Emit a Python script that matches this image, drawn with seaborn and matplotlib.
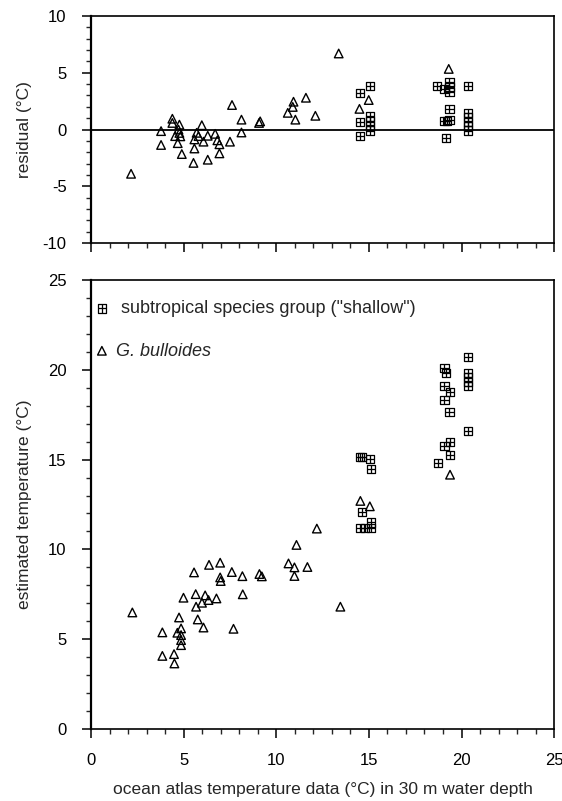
import numpy as np
import pandas as pd
import seaborn as sns
import matplotlib.pyplot as plt
from matplotlib.path import Path
from matplotlib.ticker import MultipleLocator

# residual (top panel), G. bulloides
res_tri_x = [2.16, 3.78, 3.78, 4.39, 4.39, 4.77, 4.72, 4.77, 4.54, 4.82, 4.68, 4.90,
             5.53, 5.58, 5.58, 5.70, 5.80, 5.98, 6.07, 6.30, 6.30, 6.70, 6.82, 6.93,
             6.93, 7.50, 7.61, 8.12, 8.12, 9.07, 9.13, 10.62, 10.89, 10.93, 11.03,
             11.60, 12.11, 13.37, 14.49, 14.99, 19.31]
res_tri_y = [-3.9, -0.14, -1.36, 0.95, 0.58, 0.43, 0.0, -0.3, -0.58, -0.6, -1.2, -2.16,
             -2.94, -1.67, -0.87, -0.29, -0.58, 0.38, -1.07, -0.55, -2.66, -0.38, -0.95,
             -1.3, -2.1, -1.07, 2.16, 0.87, -0.26, 0.58, 0.72, 1.47, 1.99, 2.45, 0.87,
             2.8, 1.21, 6.7, 1.82, 2.6, 5.34]
# residual (top panel), subtropical species group
res_sq_x = [14.54, 14.54, 14.54, 15.05, 15.05, 15.05, 15.05, 15.05,
            18.68, 19.08, 19.15, 19.08, 19.20, 19.35, 19.35, 19.35, 19.35, 19.35,
            20.34, 20.34, 20.34, 20.34, 20.34, 20.34]
res_sq_y = [3.23, 0.66, -0.58, 3.84, 1.15, 0.72, 0.29, -0.09,
            3.84, 3.6, -0.72, 0.72, 0.78, 4.18, 3.75, 3.32, 1.79, 0.87,
            3.84, 1.44, 1.07, 0.66, 0.29, -0.09]

# estimated temperature (bottom panel), G. bulloides
est_tri_x = [2.23, 3.85, 3.85, 4.48, 4.50, 4.75, 4.66, 4.86, 4.86, 4.86, 4.86, 4.99,
             5.56, 5.65, 5.67, 5.76, 6.07, 5.99, 6.16, 6.34, 6.37, 6.77, 6.97, 6.97,
             7.00, 7.60, 7.69, 8.17, 8.19, 9.09, 9.22, 10.66, 10.98, 10.98, 11.09,
             11.68, 12.19, 13.46, 14.54, 15.05, 19.38]
est_tri_y = [6.49, 5.38, 4.07, 4.17, 3.65, 6.21, 5.36, 5.60, 5.23, 4.95, 4.67, 7.31,
             8.72, 7.51, 6.81, 6.10, 5.65, 7.03, 7.44, 7.18, 9.14, 7.27, 9.26, 8.44,
             8.24, 8.74, 5.58, 8.51, 7.50, 8.63, 8.50, 9.22, 9.00, 8.52, 10.25,
             9.02, 11.16, 6.81, 12.70, 12.40, 14.16]
# estimated temperature (bottom panel), subtropical species group
est_sq_x = [14.62, 14.54, 14.80, 15.12, 15.12, 14.54, 14.62, 15.07, 15.10,
            18.75, 19.08, 19.39, 19.39, 19.35, 19.08, 19.08, 19.39, 19.08, 19.17,
            20.34, 20.34, 20.34, 20.34, 20.34, 20.34]
est_sq_y = [12.07, 11.18, 11.18, 11.18, 11.50, 15.16, 15.16, 15.03, 14.47,
            14.81, 15.74, 15.96, 15.27, 17.63, 18.34, 19.08, 18.75, 20.10, 19.83,
            16.61, 20.70, 19.83, 19.59, 19.33, 19.08]

label_sq = ' subtropical species group ("shallow")'
label_tri = "G. bulloides"

sns.set_style("ticks")
plt.rcParams["font.family"] = ["Liberation Sans", "DejaVu Sans"]
plt.rcParams["axes.unicode_minus"] = False

# square with a cross inside
sq_path = Path(
    [(-1, -1), (1, -1), (1, 1), (-1, 1), (-1, -1), (-1, 0), (1, 0), (0, -1), (0, 1)],
    [Path.MOVETO, Path.LINETO, Path.LINETO, Path.LINETO, Path.CLOSEPOLY,
     Path.MOVETO, Path.LINETO, Path.MOVETO, Path.LINETO],
)

fig = plt.figure(figsize=(5.62, 8.01), dpi=100)
ax1 = fig.add_axes([0.162, 0.6966, 0.824, 0.2834])
ax2 = fig.add_axes([0.162, 0.0899, 0.824, 0.5605])

res_sq = pd.DataFrame({"x": res_sq_x, "y": res_sq_y})
res_tri = pd.DataFrame({"x": res_tri_x, "y": res_tri_y})
est_sq = pd.DataFrame({"x": est_sq_x, "y": est_sq_y})
est_tri = pd.DataFrame({"x": est_tri_x, "y": est_tri_y})

style_sq = dict(marker=sq_path, s=34, facecolor="none", edgecolor="black", linewidth=0.9)
style_tri = dict(marker="^", s=38, facecolor="none", edgecolor="black", linewidth=1.0)

ax1.axhline(0, color="black", lw=1.3, zorder=1)
sns.scatterplot(data=res_sq, x="x", y="y", ax=ax1, **style_sq)
sns.scatterplot(data=res_tri, x="x", y="y", ax=ax1, **style_tri)

sns.scatterplot(data=est_sq, x="x", y="y", ax=ax2, label=label_sq, **style_sq)
sns.scatterplot(data=est_tri, x="x", y="y", ax=ax2, label=label_tri, **style_tri)

ax1.set_xlim(0, 25)
ax1.set_ylim(-10, 10)
ax2.set_xlim(0, 25)
ax2.set_ylim(0, 25)

for ax in (ax1, ax2):
    ax.xaxis.set_major_locator(MultipleLocator(5))
    ax.xaxis.set_minor_locator(MultipleLocator(1))
    ax.yaxis.set_major_locator(MultipleLocator(5))
    ax.yaxis.set_minor_locator(MultipleLocator(1))
    ax.tick_params(which="major", direction="out", length=6.5, width=1.1,
                   labelsize=12, colors="black", top=False, right=False)
    ax.tick_params(which="minor", direction="out", length=3.5, width=1.0,
                   top=False, right=False)
    ax.tick_params(axis="y", which="major", pad=11)
    ax.tick_params(axis="x", which="major", pad=11)
    for sp in ax.spines.values():
        sp.set_visible(True)
        sp.set_linewidth(1.2)
        sp.set_color("black")
    ax.spines["left"].set_linewidth(1.6)

ax1.tick_params(labelbottom=False)
ax1.set_xlabel("")
ax1.set_ylabel("residual (°C)", fontsize=12.5)
ax1.yaxis.set_label_coords(-0.127, 0.5)

ax2.set_ylabel("estimated temperature (°C)", fontsize=12.5)
ax2.yaxis.set_label_coords(-0.127, 0.5)
ax2.set_xlabel("ocean atlas temperature data (°C) in 30 m water depth", fontsize=12.5)
ax2.xaxis.set_label_coords(0.5, -0.117)

leg = ax2.legend(loc="upper left", bbox_to_anchor=(0.0, 0.955), frameon=False,
                 fontsize=13, labelspacing=1.4, handletextpad=0.2,
                 handlelength=1.2, borderaxespad=0.0, borderpad=0.0)
leg.get_texts()[1].set_style("italic")

fig.savefig("out.png", dpi=100)
